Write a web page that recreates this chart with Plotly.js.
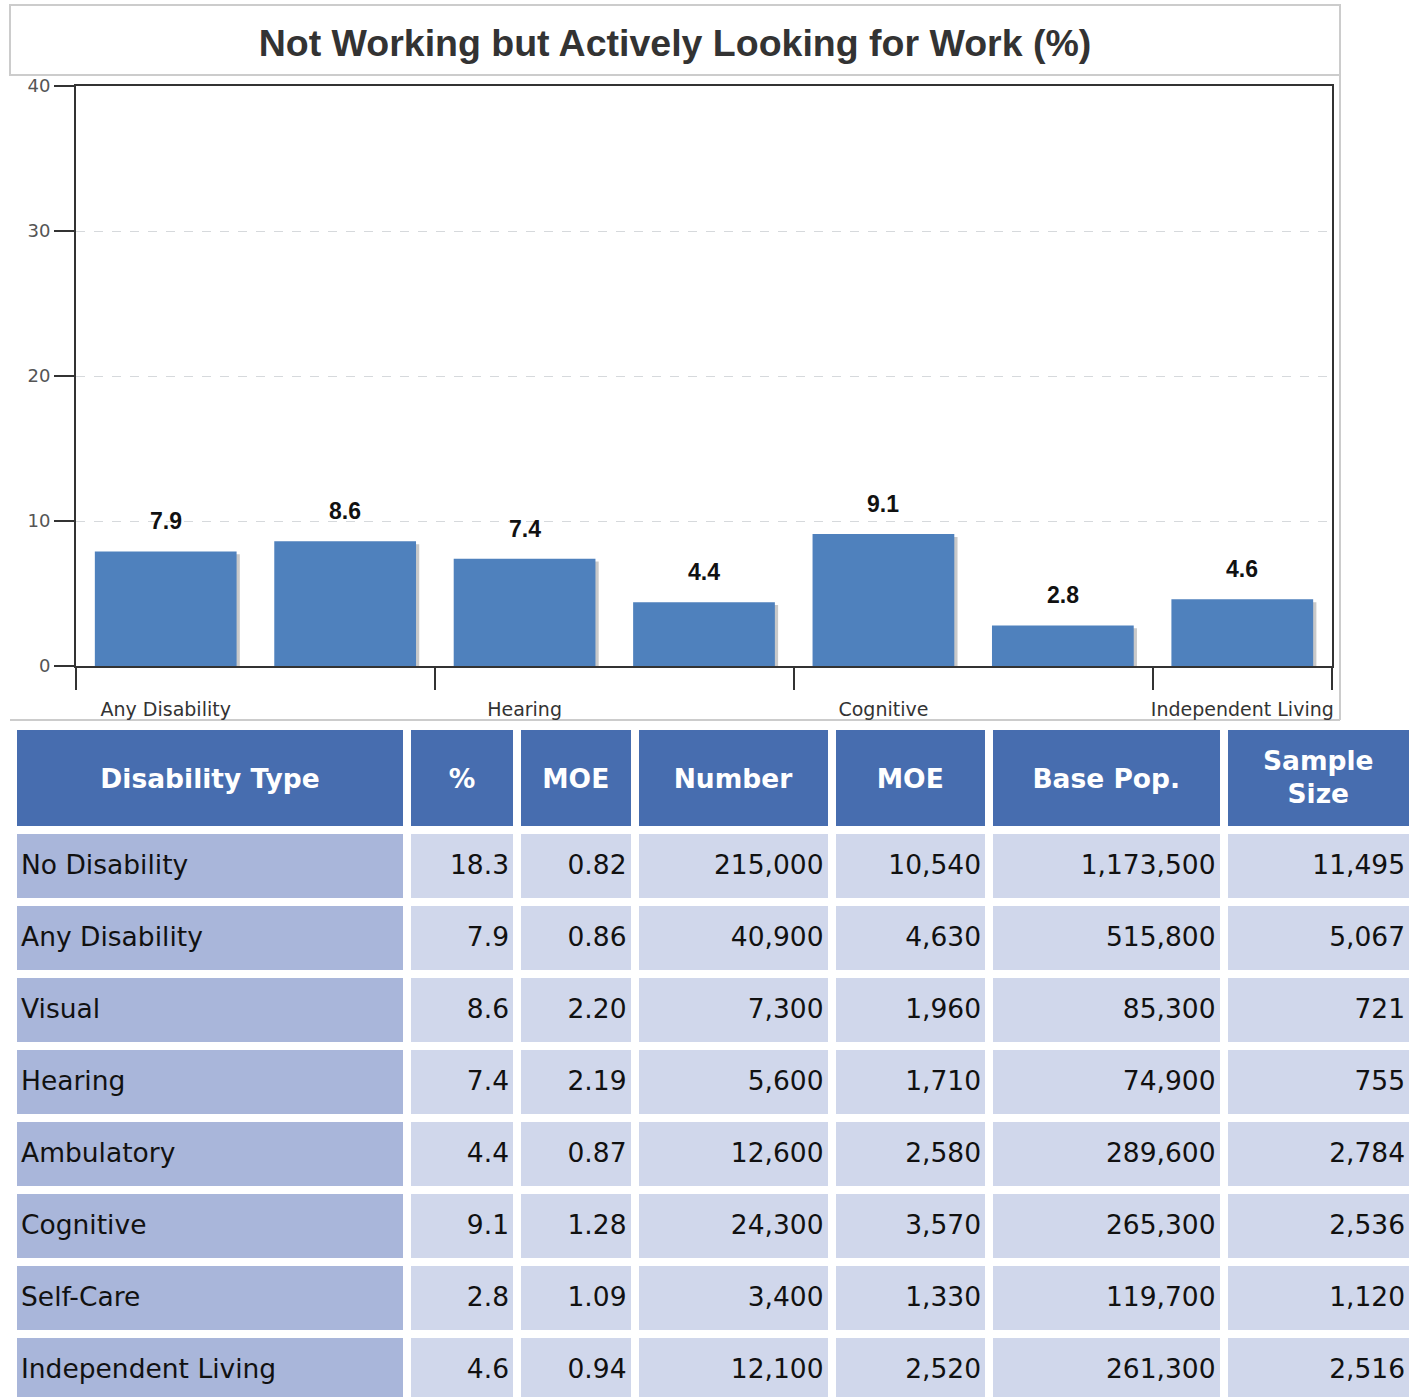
<!DOCTYPE html>
<html>
<head>
<meta charset="utf-8">
<script src="https://cdn.plot.ly/plotly-3.0.1.min.js"></script>
<style>
html, body { margin: 0; padding: 0; overflow: hidden; background: #fff; }
#chart { width: 1418px; height: 1430px; }
</style>
</head>
<body>
<div id="chart"></div>
<script>
// ---- Chart data ----
const chartTitle = 'Not Working but Actively Looking for Work (%)';
const categories = ['Any Disability', 'Visual', 'Hearing', 'Ambulatory', 'Cognitive', 'Self-Care', 'Independent Living'];
const pctValues = [7.9, 8.6, 7.4, 4.4, 9.1, 2.8, 4.6];
const labeledCategories = ['Any Disability', 'Hearing', 'Cognitive', 'Independent Living'];
const yTickValues = [0, 10, 20, 30, 40];

// ---- Table data ----
const tableHeaders = ['Disability Type', '%', 'MOE', 'Number', 'MOE', 'Base Pop.', 'Sample<br>Size'];
const disabilityTypes = ['No Disability', 'Any Disability', 'Visual', 'Hearing', 'Ambulatory', 'Cognitive', 'Self-Care', 'Independent Living'];
const pctCol = ['18.3', '7.9', '8.6', '7.4', '4.4', '9.1', '2.8', '4.6'];
const pctMoeCol = ['0.82', '0.86', '2.20', '2.19', '0.87', '1.28', '1.09', '0.94'];
const numberCol = ['215,000', '40,900', '7,300', '5,600', '12,600', '24,300', '3,400', '12,100'];
const numberMoeCol = ['10,540', '4,630', '1,960', '1,710', '2,580', '3,570', '1,330', '2,520'];
const basePopCol = ['1,173,500', '515,800', '85,300', '74,900', '289,600', '265,300', '119,700', '261,300'];
const sampleSizeCol = ['11,495', '5,067', '721', '755', '2,784', '2,536', '1,120', '2,516'];

// ---- Layout helpers ----
const W = 1418, H = 1430;
const px = v => v / W;
const py = v => 1 - v / H;

const xIdx = categories.map((c, i) => i);
const labelIdx = xIdx.filter(i => labeledCategories.includes(categories[i]));
const boundaryTicks = [-0.5].concat(xIdx.filter(i => i % 2 === 1 && i < categories.length - 1).map(i => i + 0.5)).concat([categories.length - 0.5]);

const barWidth = 0.79;
const barColor = '#4F81BD';

const shadowTrace = {
  type: 'bar', x: xIdx, y: pctValues, base: -0.2,
  width: barWidth, offset: -barWidth / 2 + 0.018,
  marker: { color: '#c9c9c9', line: { width: 0 } },
  xaxis: 'x', yaxis: 'y', hoverinfo: 'skip', showlegend: false, cliponaxis: false
};
const barTrace = {
  type: 'bar', x: xIdx, y: pctValues,
  width: barWidth, offset: -barWidth / 2,
  marker: { color: barColor, line: { width: 0 } },
  xaxis: 'x2', yaxis: 'y', showlegend: false, cliponaxis: false
};

// ---- Table traces: one for cell fills, text-only overlays for vertically centred text ----
const colWidths = [394, 110, 117.5, 197, 157.5, 234.5, 189.5];
const tableX = [px(13), px(1413)];
const cellCols = [disabilityTypes, pctCol, pctMoeCol, numberCol, numberMoeCol, basePopCol, sampleSizeCol];
const cellAlign = ['left', 'right', 'right', 'right', 'right', 'right', 'right'];
const headerFill = '#476DAF';
const firstColFill = '#A9B6DA';
const otherColFill = '#D0D7EB';
const tableFont = 'DejaVu Sans';
const tableFontSize = 26.5;
const clear = 'rgba(0,0,0,0)';

const fillTable = {
  type: 'table',
  domain: { x: tableX, y: [0, py(726)] },
  columnwidth: colWidths,
  header: {
    values: tableHeaders.map(() => ''),
    height: 104,
    fill: { color: headerFill },
    line: { color: '#ffffff', width: 8 },
    font: { family: tableFont, size: tableFontSize, color: '#ffffff' }
  },
  cells: {
    values: cellCols.map(col => col.map(() => '')),
    height: 72,
    fill: { color: cellCols.map((c, i) => i === 0 ? firstColFill : otherColFill) },
    line: { color: '#ffffff', width: 8 },
    font: { family: tableFont, size: tableFontSize, color: '#111111' }
  }
};

const textTable = {
  type: 'table',
  domain: { x: tableX, y: [0, py(755)] },
  columnwidth: colWidths,
  header: {
    values: tableHeaders.map(h => h.includes('<br>') ? '' : '<b>' + h + '</b>'),
    align: 'center',
    height: 91,
    fill: { color: clear },
    line: { color: clear, width: 8 },
    font: { family: tableFont, size: tableFontSize, color: '#ffffff' }
  },
  cells: {
    values: cellCols,
    align: cellAlign,
    height: 72,
    fill: { color: clear },
    line: { color: clear, width: 8 },
    font: { family: tableFont, size: tableFontSize, color: '#111111' }
  }
};

// two-line header cells: each line drawn centred on its own
const headerLineTops = [737, 770];
const headerLineTables = headerLineTops.map((top, li) => ({
  type: 'table',
  domain: { x: tableX, y: [py(top + 70), py(top)] },
  columnwidth: colWidths,
  header: {
    values: tableHeaders.map(h => h.includes('<br>') ? '<b>' + h.split('<br>')[li] + '</b>' : ''),
    align: 'center',
    height: 60,
    fill: { color: clear },
    line: { color: clear, width: 8 },
    font: { family: tableFont, size: tableFontSize, color: '#ffffff' }
  },
  cells: {
    values: tableHeaders.map(() => []),
    height: 1,
    fill: { color: clear },
    line: { color: clear, width: 0 }
  }
}));

const annotations = xIdx.map(i => ({
  x: i, y: pctValues[i], xref: 'x2', yref: 'y',
  text: '<b>' + pctValues[i].toFixed(1) + '</b>',
  showarrow: false, yanchor: 'middle', yshift: 30,
  font: { family: 'Liberation Sans, Arial, sans-serif', size: 23, color: '#111111' }
}));

const layout = {
  width: W, height: H,
  margin: { l: 0, r: 0, t: 0, b: 0 },
  paper_bgcolor: '#ffffff', plot_bgcolor: '#ffffff',
  showlegend: false,
  barmode: 'overlay',
  title: {
    text: '<b>' + chartTitle + '</b>',
    x: px(675), xanchor: 'center', xref: 'paper',
    y: py(43), yanchor: 'middle', yref: 'paper',
    font: { family: 'Liberation Sans, Arial, sans-serif', size: 37.5, color: '#333333' }
  },
  xaxis: {
    domain: [px(76), px(1332)],
    range: [-0.5, categories.length - 0.5],
    type: 'linear',
    tickmode: 'array', tickvals: boundaryTicks, ticktext: boundaryTicks.map(() => ''),
    ticks: 'outside', ticklen: 22, tickwidth: 2, tickcolor: '#333333',
    showline: true, linecolor: '#333333', linewidth: 2, mirror: true,
    showgrid: false, zeroline: false, layer: 'below traces',
    anchor: 'y', fixedrange: true
  },
  xaxis2: {
    overlaying: 'x', matches: 'x',
    range: [-0.5, categories.length - 0.5],
    type: 'linear',
    tickmode: 'array', tickvals: labelIdx, ticktext: labelIdx.map(i => categories[i]),
    ticks: 'outside', ticklen: 26, tickcolor: clear,
    tickfont: { family: 'DejaVu Sans', size: 19, color: '#333333' },
    showline: false, showgrid: false, zeroline: false,
    anchor: 'y', side: 'bottom', fixedrange: true
  },
  yaxis: {
    domain: [py(666), py(86)],
    range: [0, 40],
    tickmode: 'array', tickvals: yTickValues,
    ticks: 'outside', ticklen: 20, tickwidth: 2, tickcolor: '#333333',
    tickfont: { family: 'DejaVu Sans', size: 18, color: '#555555' },
    showline: true, linecolor: '#333333', linewidth: 2, mirror: true,
    showgrid: true, gridcolor: '#d6d9dc', griddash: 'dash', gridwidth: 1,
    zeroline: false, layer: 'below traces', fixedrange: true
  },
  shapes: [
    { type: 'rect', xref: 'paper', yref: 'paper', x0: px(10), x1: px(1340), y0: py(75), y1: py(5),
      line: { color: '#cccccc', width: 2 }, fillcolor: clear, layer: 'below' },
    { type: 'line', xref: 'paper', yref: 'paper', x0: px(10), x1: px(1340), y0: py(720), y1: py(720),
      line: { color: '#cccccc', width: 2 }, layer: 'below' },
    { type: 'line', xref: 'paper', yref: 'paper', x0: px(1340), x1: px(1340), y0: py(720), y1: py(75),
      line: { color: '#cccccc', width: 2 }, layer: 'below' }
  ],
  annotations: annotations
};

Plotly.newPlot('chart', [shadowTrace, barTrace, fillTable, textTable].concat(headerLineTables), layout, { displayModeBar: false, staticPlot: true });
</script>
</body>
</html>
